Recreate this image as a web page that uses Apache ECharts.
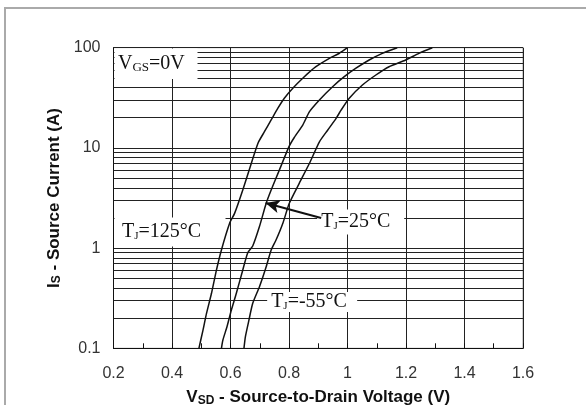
<!DOCTYPE html>
<html><head><meta charset="utf-8">
<script src="https://cdn.jsdelivr.net/npm/echarts@6/dist/echarts.min.js"></script>
<style>html,body{margin:0;padding:0;background:#fff}#c{width:586px;height:405px}</style>
</head><body><div id="c"></div>
<script>
// ---- data ----
const xTickLabels = ['0.2', '0.4', '0.6', '0.8', '1', '1.2', '1.4', '1.6'];
const yTickLabels = ['0.1', '1', '10', '100'];
const seriesNames = ['TJ=125°C', 'TJ=25°C', 'TJ=-55°C'];
const curve125 = [[0.492,0.1],[0.506,0.152],[0.518,0.223],[0.535,0.354],[0.552,0.605],[0.569,0.959],[0.597,1.77],[0.614,2.22],[0.642,3.80],[0.671,7.0],[0.695,11.3],[0.716,14.5],[0.739,19.0],[0.762,24.9],[0.784,31.3],[0.813,39.4],[0.847,49.6],[0.892,64.6],[0.938,78.4],[0.972,88.0],[1.0,100]];
const curve25 = [[0.569,0.1],[0.574,0.121],[0.588,0.164],[0.603,0.241],[0.620,0.354],[0.642,0.605],[0.659,0.90],[0.676,1.05],[0.699,1.64],[0.722,2.80],[0.739,3.80],[0.767,6.0],[0.800,10.3],[0.818,12.7],[0.847,16.9],[0.870,23.0],[0.904,30.1],[0.949,40.8],[0.989,51.4],[1.029,62.4],[1.074,75.4],[1.119,87.9],[1.17,100]];
const curveM55 = [[0.646,0.1],[0.651,0.131],[0.663,0.191],[0.676,0.281],[0.699,0.412],[0.722,0.652],[0.739,0.959],[0.756,1.21],[0.779,1.77],[0.801,2.80],[0.835,4.43],[0.870,7.02],[0.904,11.5],[0.932,15.0],[0.961,19.7],[0.978,23.8],[1.006,31.3],[1.051,42.4],[1.097,53.4],[1.142,64.6],[1.199,75.4],[1.244,87.9],[1.29,100]];
const minorGridValues = [0.2,0.3,0.4,0.5,0.6,0.7,0.8,0.9,2,3,4,5,6,7,8,9,20,30,40,50,60,70,80,90];
const arrowFrom = [0.91, 2.0];
const arrowTo = [0.72, 2.82];
const noteTexts = ['VGS=0V', seriesNames[0], seriesNames[1], seriesNames[2]];
const noteAnchors = [[0.2, 100], [0.229, 1.45], [0.91, 1.82], [0.739, 0.29]];

// ---- chart ----
const chart = echarts.init(document.getElementById('c'), null, {renderer: 'canvas'});
const serif = '"Liberation Serif", "DejaVu Serif", serif';
const sans = '"Liberation Sans", Arial, sans-serif';
const ink = '#111';

const nameRich = {
  v: {fontFamily: sans, fontWeight: 'bold', fontSize: 17, color: ink, verticalAlign: 'bottom', lineHeight: 20},
  s: {fontFamily: sans, fontWeight: 'bold', fontSize: 12, color: ink, verticalAlign: 'bottom', lineHeight: 7}
};

function curveSeries(name, data) {
  return {
    name: name, type: 'line', data: data, showSymbol: false, symbol: 'none',
    smooth: 0.2, z: 7, silent: true,
    lineStyle: {color: ink, width: 1.5}
  };
}

// per-note box layout in pixels: [dx of text from anchor, dy, box left pad, box width, box height]
const noteBoxes = [
  [4.5, 16, 3.5, 83, 30.5],
  [0, 0, null, 111, 29],
  [0, 0, 4, 87, 25],
  [0, 0, 4, 90, 20]
];
const labRich = {
  t: {fontFamily: serif, fontSize: 20, fill: ink, verticalAlign: 'bottom', lineHeight: 20},
  j: {fontFamily: serif, fontSize: 11, fill: ink, verticalAlign: 'bottom', lineHeight: 14},
  g: {fontFamily: serif, fontSize: 13, fill: ink, verticalAlign: 'bottom', lineHeight: 15}
};
function richNote(txt) {
  if (txt.indexOf('VGS') === 0) return '{t|V}{g|GS}{t|' + txt.slice(3) + '}';
  return '{t|T}{j|J}{t|' + txt.slice(2) + '}';
}

const option = {
  animation: false,
  backgroundColor: '#fff',
  grid: {left: 113.5, top: 47.7, right: 63, bottom: 56.7, show: true, borderColor: '#999', borderWidth: 1,
    outerBoundsMode: 'none', containLabel: false},
  xAxis: {
    type: 'value', min: 0.2, max: 1.6, interval: 0.2,
    axisLine: {show: true, lineStyle: {color: ink, width: 1}},
    axisTick: {show: true, inside: true, length: 5, lineStyle: {color: ink}},
    minorTick: {show: true, splitNumber: 2, length: 5, lineStyle: {color: ink}},
    splitLine: {show: true, lineStyle: {color: '#222', width: 1}},
    axisLabel: {fontFamily: sans, fontSize: 16, color: '#333', margin: 17,
      formatter: v => xTickLabels[Math.round((v - 0.2) / 0.2)]},
    name: '{v|V}{s|SD}{v| - Source-to-Drain Voltage (V)}',
    nameLocation: 'middle', nameGap: 38,
    nameTextStyle: {rich: nameRich}
  },
  yAxis: {
    type: 'log', logBase: 10, min: 0.1, max: 100,
    axisLine: {show: true, lineStyle: {color: ink, width: 1}},
    axisTick: {show: false},
    splitLine: {show: true, lineStyle: {color: '#222', width: 1}},
    axisLabel: {fontFamily: sans, fontSize: 16, color: '#333', margin: 13,
      formatter: v => yTickLabels[Math.round(Math.log10(v)) + 1]},
    name: '{v|I}{s|S}{v| - Source Current (A)}',
    nameLocation: 'middle', nameGap: 40, nameRotate: 90,
    nameTextStyle: {rich: nameRich}
  },
  series: [
    {
      name: 'grid', type: 'line', data: [], z: 1, silent: true,
      markLine: {
        z: 1, silent: true, symbol: ['none', 'none'], animation: false,
        label: {show: false},
        lineStyle: {color: '#222', width: 1, type: 'solid'},
        data: minorGridValues.map(v => ({yAxis: v}))
      }
    },
    {
      name: 'notes', type: 'custom', z: 6, silent: true, clip: false,
      data: noteAnchors.map((a, i) => [a[0], a[1], i]),
      renderItem: function (params, api) {
        const i = api.value(2);
        const pt = api.coord([api.value(0), api.value(1)]);
        const lt = api.coord([0.2, 100]);
        const b = noteBoxes[i];
        const tx = pt[0] + b[0], ty = pt[1] + b[1];
        const pad = b[2] == null ? tx - lt[0] - 1 : b[2];
        return {
          type: 'group',
          children: [
            {type: 'rect', shape: {x: tx - pad, y: ty - b[4] / 2, width: b[3], height: b[4]},
              style: {fill: '#fff'}},
            {type: 'text', x: tx, y: ty,
              style: {text: richNote(noteTexts[i]), align: 'left', verticalAlign: 'middle', rich: labRich}}
          ]
        };
      }
    },
    curveSeries(seriesNames[0], curve125),
    curveSeries(seriesNames[1], curve25),
    curveSeries(seriesNames[2], curveM55),
    {
      name: 'arrow', type: 'line', data: [], z: 9, silent: true,
      markLine: {
        z: 9, silent: true, animation: false, symbol: ['none', 'arrow'], symbolSize: [10, 14],
        label: {show: false},
        lineStyle: {color: ink, width: 2, type: 'solid'},
        data: [[{coord: arrowFrom}, {coord: arrowTo}]]
      }
    }
  ],
  graphic: [
    {type: 'polyline', silent: true, shape: {points: [[5, 405], [5, 8], [586, 8]]},
      style: {stroke: '#aaa', lineWidth: 2, fill: null}}
  ]
};
chart.setOption(option);
</script>
</body></html>
